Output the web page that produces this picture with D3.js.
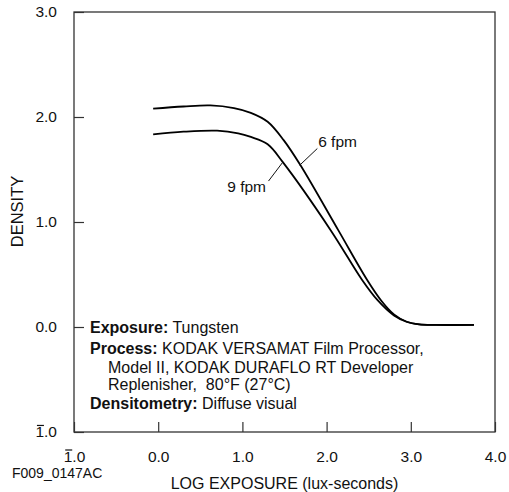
<!DOCTYPE html>
<html>
<head>
<meta charset="utf-8">
<script src="https://cdn.jsdelivr.net/npm/d3@7"></script>
<style>
  body { margin: 0; background: #fff; }
  text { font-family: "Liberation Sans", Arial, sans-serif; fill: #111; white-space: pre; }
</style>
</head>
<body>
<svg id="chart" width="509" height="492"></svg>
<script>
// Curve readings (log exposure, density)
const fpm6X = [-0.06, 0.3, 0.62, 0.9, 1.1, 1.3, 1.49, 1.69, 2.14, 2.48, 2.65, 2.8, 2.95, 3.1, 3.3, 3.75];
const fpm6Y = [2.08, 2.10, 2.11, 2.085, 2.04, 1.955, 1.78, 1.54, 0.92, 0.45, 0.25, 0.12, 0.05, 0.025, 0.02, 0.02];
const fpm9X = [-0.06, 0.3, 0.7, 0.95, 1.1, 1.3, 1.48, 2.05, 2.42, 2.6, 2.8, 2.95, 3.1, 3.3, 3.75];
const fpm9Y = [1.835, 1.86, 1.87, 1.845, 1.81, 1.74, 1.57, 0.92, 0.45, 0.26, 0.11, 0.05, 0.025, 0.02, 0.02];

const xTicks = [-1, 0, 1, 2, 3, 4];
const yTicks = [-1, 0, 1, 2, 3];

const notes = [
  { bold: "Exposure:", text: " Tungsten", indent: 0 },
  { bold: "Process:", text: " KODAK VERSAMAT Film Processor,", indent: 0 },
  { bold: "", text: "Model II, KODAK DURAFLO RT Developer", indent: 1 },
  { bold: "", text: "Replenisher,  80°F (27°C)", indent: 1 },
  { bold: "Densitometry:", text: " Diffuse visual", indent: 0 }
];
const noteBaselines = [333, 354, 373, 390, 409];

const margin = { top: 12, right: 14, bottom: 60, left: 74 };
const width = 509 - margin.left - margin.right;
const height = 492 - margin.top - margin.bottom;

const svg = d3.select("#chart");
const g = svg.append("g").attr("transform", `translate(${margin.left},${margin.top})`);

const x = d3.scaleLinear().domain([-1, 4]).range([0, width]);
const y = d3.scaleLinear().domain([-1, 3]).range([height, 0]);

const fmt = d => Math.abs(d).toFixed(1);

// frame
g.append("rect")
  .attr("width", width).attr("height", height)
  .attr("fill", "none").attr("stroke", "#333").attr("stroke-width", 1.3);

// x axis, ticks pointing in
const xAxis = g.append("g")
  .attr("transform", `translate(0,${height})`)
  .call(d3.axisBottom(x).tickValues(xTicks).tickFormat(fmt).tickSizeInner(-10).tickSizeOuter(0).tickPadding(30));
xAxis.select(".domain").remove();
xAxis.selectAll("line").attr("stroke", "#333").attr("stroke-width", 1.2);
xAxis.selectAll("text").attr("font-size", 15.5).attr("fill", "#111").attr("dy", "0");

const yAxis = g.append("g")
  .call(d3.axisLeft(y).tickValues(yTicks).tickFormat(fmt).tickSizeInner(-10).tickSizeOuter(0).tickPadding(17));
yAxis.select(".domain").remove();
yAxis.selectAll("line").attr("stroke", "#333").attr("stroke-width", 1.2);
yAxis.selectAll("text").attr("font-size", 15.5).attr("fill", "#111");

// bar over the characteristic of negative logs
[xAxis, yAxis].forEach(ax => {
  ax.selectAll(".tick").filter(d => d < 0).each(function() {
    const t = d3.select(this).select("text");
    const bb = t.node().getBBox();
    d3.select(this).append("line")
      .attr("x1", bb.x + 1.5).attr("x2", bb.x + 8.5)
      .attr("y1", bb.y + 2).attr("y2", bb.y + 2)
      .attr("stroke", "#111").attr("stroke-width", 1.2);
  });
});

// curves
const line = d3.line().x(d => x(d[0])).y(d => y(d[1])).curve(d3.curveCatmullRom.alpha(0.5));
[[fpm6X, fpm6Y], [fpm9X, fpm9Y]].forEach(([xs, ys]) => {
  g.append("path")
    .datum(xs.map((v, i) => [v, ys[i]]))
    .attr("d", line)
    .attr("fill", "none").attr("stroke", "#000").attr("stroke-width", 1.8);
});

// curve labels with leaders
const labels = [
  { name: "6 fpm", tx: 1.90, ty: 1.71, lx1: 1.89, ly1: 1.70, lx2: 1.68, ly2: 1.54, anchor: "start" },
  { name: "9 fpm", tx: 1.28, ty: 1.29, lx1: 1.31, ly1: 1.39, lx2: 1.48, ly2: 1.57, anchor: "end" }
];
labels.forEach(l => {
  g.append("line")
    .attr("x1", x(l.lx1)).attr("y1", y(l.ly1))
    .attr("x2", x(l.lx2)).attr("y2", y(l.ly2))
    .attr("stroke", "#111").attr("stroke-width", 1);
  g.append("text")
    .attr("x", x(l.tx)).attr("y", y(l.ty))
    .attr("text-anchor", l.anchor).attr("font-size", 15.5)
    .text(l.name);
});

// notes block
notes.forEach((n, i) => {
  const t = svg.append("text")
    .attr("x", n.indent ? 108 : 90).attr("y", noteBaselines[i])
    .attr("font-size", 16);
  if (n.bold) t.append("tspan").attr("font-weight", "bold").text(n.bold);
  t.append("tspan").text(n.text);
});

// axis titles
svg.append("text")
  .attr("x", margin.left + x(1.5)).attr("y", 489)
  .attr("text-anchor", "middle").attr("font-size", 16)
  .text("LOG EXPOSURE (lux-seconds)");

svg.append("text")
  .attr("transform", `translate(23,${margin.top + y(1.1)}) rotate(-90)`)
  .attr("text-anchor", "middle").attr("font-size", 16.5)
  .text("DENSITY");

svg.append("text")
  .attr("x", 12).attr("y", 478)
  .attr("font-size", 14)
  .text("F009_0147AC");
</script>
</body>
</html>
